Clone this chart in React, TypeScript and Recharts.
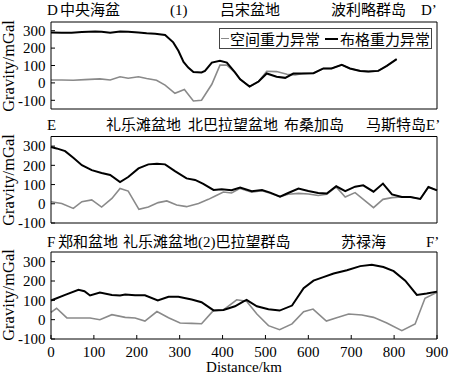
import { LineChart, Line, XAxis, YAxis } from 'recharts';

// D–D' profile
const D_BOUGUER_X = [0, 25, 48, 72, 103, 118, 138, 161, 180, 204, 223, 243, 266, 285, 297, 309, 320, 332, 351, 359, 375, 394, 410, 429, 441, 463, 484, 503, 526, 546, 565, 588, 612, 635, 654, 678, 697, 721, 740, 763, 783, 806];
const D_BOUGUER = [290, 288, 288, 292, 296, 294, 288, 296, 294, 290, 285, 283, 275, 233, 185, 121, 88, 63, 60, 69, 117, 127, 117, 60, 21, -21, 8, 54, 35, 29, 54, 54, 56, 83, 83, 104, 83, 69, 65, 69, 98, 137];
const D_FREEAIR_X = [0, 25, 52, 79, 114, 138, 161, 180, 204, 223, 246, 266, 289, 311, 332, 351, 375, 394, 410, 429, 441, 463, 484, 503, 526, 550, 569, 588, 612, 635, 654, 678, 697, 721, 740, 763, 783, 806];
const D_FREEAIR = [17, 17, 15, 19, 23, 17, 35, 27, 35, 25, 15, -13, -60, -38, -104, -100, -8, 102, 102, 60, 21, -21, 8, 67, 65, 50, 46, 54, 56, 83, 83, 104, 83, 69, 65, 69, 98, 137];

// E–E' profile
const E_BOUGUER_X = [0, 13, 33, 52, 72, 95, 118, 138, 161, 180, 204, 227, 247, 266, 289, 316, 336, 355, 379, 398, 421, 441, 468, 492, 511, 534, 553, 577, 600, 623, 643, 665, 686, 709, 728, 752, 774, 795, 818, 838, 861, 880, 900];
const E_BOUGUER = [295, 288, 274, 239, 201, 175, 160, 150, 113, 139, 184, 205, 208, 205, 170, 132, 124, 104, 72, 75, 70, 84, 65, 71, 58, 37, 56, 79, 66, 56, 53, 91, 66, 89, 96, 63, 105, 49, 35, 35, 25, 87, 70];
const E_FREEAIR_X = [0, 25, 52, 72, 95, 118, 142, 161, 180, 205, 227, 250, 270, 293, 316, 344, 367, 383, 402, 421, 441, 468, 492, 511, 534, 553, 577, 600, 623, 643, 665, 686, 709, 752, 774, 795, 818, 838, 861, 880, 900];
const E_FREEAIR = [11, 1, -24, 11, 20, -17, 28, 80, 66, -29, -17, 6, 15, -6, -15, 1, 23, 40, 61, 56, 80, 60, 68, 55, 37, 50, 54, 51, 43, 50, 88, 35, 58, -20, 23, 32, 35, 35, 25, 87, 70];

// F–F' profile
const F_BOUGUER_X = [0, 33, 64, 78, 91, 114, 142, 161, 173, 196, 219, 249, 274, 297, 328, 351, 379, 402, 429, 449, 456, 480, 507, 533, 562, 589, 612, 635, 659, 690, 721, 748, 775, 799, 826, 853, 876, 900];
const F_BOUGUER = [99, 128, 154, 147, 125, 140, 128, 125, 130, 126, 126, 99, 118, 118, 104, 90, 48, 50, 69, 95, 102, 69, 54, 47, 73, 163, 202, 220, 239, 256, 277, 284, 272, 251, 202, 128, 135, 145];
const F_FREEAIR_X = [0, 13, 37, 64, 91, 114, 142, 173, 196, 219, 247, 274, 301, 328, 351, 379, 402, 433, 456, 480, 507, 533, 562, 589, 611, 642, 666, 694, 725, 752, 783, 818, 849, 872, 900];
const F_FREEAIR = [38, 59, 9, 9, 9, 0, 26, 12, 9, -7, 42, 10, -17, -19, -21, 48, 50, 103, 95, 29, -31, -52, -22, 41, 55, -7, 10, 29, 24, 12, -17, -57, -22, 111, 142];

const X_TICKS = [0, 100, 200, 300, 400, 500, 600, 700, 800, 900];
const Y_TICKS = [-100, 0, 100, 200, 300];

const FONT = '"Liberation Serif", "Noto Sans CJK SC", serif';
const GRAY = '#8a8a8a';

const toPoints = (xs: number[], vs: number[]) => xs.map((d, i) => ({ d, v: vs[i] }));

interface PanelProps {
  top: number;
  height: number;
  marginTop: number;
  marginBottom: number;
  domain: [number, number];
  bouguer: { d: number; v: number }[];
  freeAir: { d: number; v: number }[];
  showXLabels?: boolean;
}

function Panel({ top, height, marginTop, marginBottom, domain, bouguer, freeAir, showXLabels }: PanelProps) {
  const tickStyle = { fontSize: 15, fill: '#000', fontFamily: FONT };
  return (
    <div style={{ position: 'absolute', left: 0, top }}>
      <LineChart width={449} height={height} margin={{ top: marginTop, right: 8, bottom: marginBottom, left: 11 }}>
        <XAxis
          type="number"
          dataKey="d"
          domain={[0, 900]}
          ticks={X_TICKS}
          height={showXLabels ? 30 : 4}
          tickSize={-4}
          tickMargin={11}
          tick={showXLabels ? tickStyle : false}
          stroke="#000"
          interval={0}
        />
        <XAxis
          xAxisId="top"
          orientation="top"
          type="number"
          dataKey="d"
          domain={[0, 900]}
          ticks={X_TICKS}
          height={4}
          tickSize={-4}
          tick={false}
          stroke="#000"
          interval={0}
        />
        <YAxis
          type="number"
          domain={domain}
          ticks={Y_TICKS}
          width={40}
          tickSize={-4}
          tickMargin={9.5}
          tick={tickStyle}
          stroke="#000"
          interval={0}
        />
        <YAxis
          yAxisId="right"
          orientation="right"
          type="number"
          domain={domain}
          ticks={Y_TICKS}
          width={4}
          tickSize={-4}
          tick={false}
          stroke="#000"
          interval={0}
        />
        <Line data={freeAir} dataKey="v" stroke={GRAY} strokeWidth={1.6} dot={false} isAnimationActive={false} />
        <Line data={bouguer} dataKey="v" stroke="#000" strokeWidth={2} dot={false} isAnimationActive={false} />
      </LineChart>
    </div>
  );
}

function Label({ x, y, children }: { x: number; y: number; children: React.ReactNode }) {
  return (
    <span
      style={{
        position: 'absolute',
        left: x,
        top: y - 8,
        fontSize: 15,
        lineHeight: '16px',
        whiteSpace: 'nowrap',
        fontFamily: FONT,
      }}
    >
      {children}
    </span>
  );
}

function YLabel({ y }: { y: number }) {
  return (
    <span
      style={{
        position: 'absolute',
        left: 8,
        top: y,
        transform: 'translate(-50%, -50%) rotate(-90deg)',
        fontSize: 16.5,
        lineHeight: '17px',
        whiteSpace: 'nowrap',
        fontFamily: FONT,
      }}
    >
      Gravity/mGal
    </span>
  );
}

export default function App() {
  return (
    <div style={{ position: 'fixed', left: 0, top: 0, width: 449, height: 374, background: '#fff', overflow: 'hidden' }}>
      <Panel top={0} height={118} marginTop={18} marginBottom={5} domain={[-150, 350]}
        bouguer={toPoints(D_BOUGUER_X, D_BOUGUER)} freeAir={toPoints(D_FREEAIR_X, D_FREEAIR)} />
      <Panel top={118} height={115} marginTop={14.5} marginBottom={6} domain={[-100, 350]}
        bouguer={toPoints(E_BOUGUER_X, E_BOUGUER)} freeAir={toPoints(E_FREEAIR_X, E_FREEAIR)} />
      <Panel top={233} height={141} marginTop={15} marginBottom={5} domain={[-100, 350]}
        bouguer={toPoints(F_BOUGUER_X, F_BOUGUER)} freeAir={toPoints(F_FREEAIR_X, F_FREEAIR)} showXLabels />

      {/* legend */}
      <div
        style={{
          position: 'absolute',
          left: 219,
          top: 28,
          width: 211,
          height: 19,
          border: '1px solid #444',
          background: '#fff',
          display: 'flex',
          alignItems: 'center',
          fontSize: 15,
          fontFamily: FONT,
          whiteSpace: 'nowrap',
        }}
      >
        <span style={{ display: 'inline-block', width: 8, height: 0, borderTop: `1.5px solid ${GRAY}`, marginLeft: 1, marginRight: 1 }} />
        <span>空间重力异常</span>
        <span style={{ display: 'inline-block', width: 13, height: 0, borderTop: '2px solid #000', marginLeft: 5, marginRight: 2 }} />
        <span>布格重力异常</span>
      </div>

      {/* profile annotations */}
      <Label x={47} y={10}>D</Label>
      <Label x={60} y={10}>中央海盆</Label>
      <Label x={170} y={10}>(1)</Label>
      <Label x={220} y={10}>吕宋盆地</Label>
      <Label x={331} y={10}>波利略群岛</Label>
      <Label x={421} y={10}>D’</Label>

      <Label x={47} y={125}>E</Label>
      <Label x={106} y={125}>礼乐滩盆地</Label>
      <Label x={188} y={125}>北巴拉望盆地</Label>
      <Label x={284} y={125}>布桑加岛</Label>
      <Label x={366} y={125}>马斯特岛E’</Label>

      <Label x={47} y={242}>F</Label>
      <Label x={58} y={242}>郑和盆地</Label>
      <Label x={123} y={242}>礼乐滩盆地(2)巴拉望群岛</Label>
      <Label x={341} y={242}>苏禄海</Label>
      <Label x={426} y={242}>F’</Label>

      <YLabel y={66} />
      <YLabel y={180} />
      <YLabel y={295} />

      <span
        style={{
          position: 'absolute',
          left: 244,
          top: 367,
          transform: 'translate(-50%, -50%)',
          fontSize: 15,
          lineHeight: '16px',
          whiteSpace: 'nowrap',
          fontFamily: FONT,
        }}
      >
        Distance/km
      </span>
    </div>
  );
}
